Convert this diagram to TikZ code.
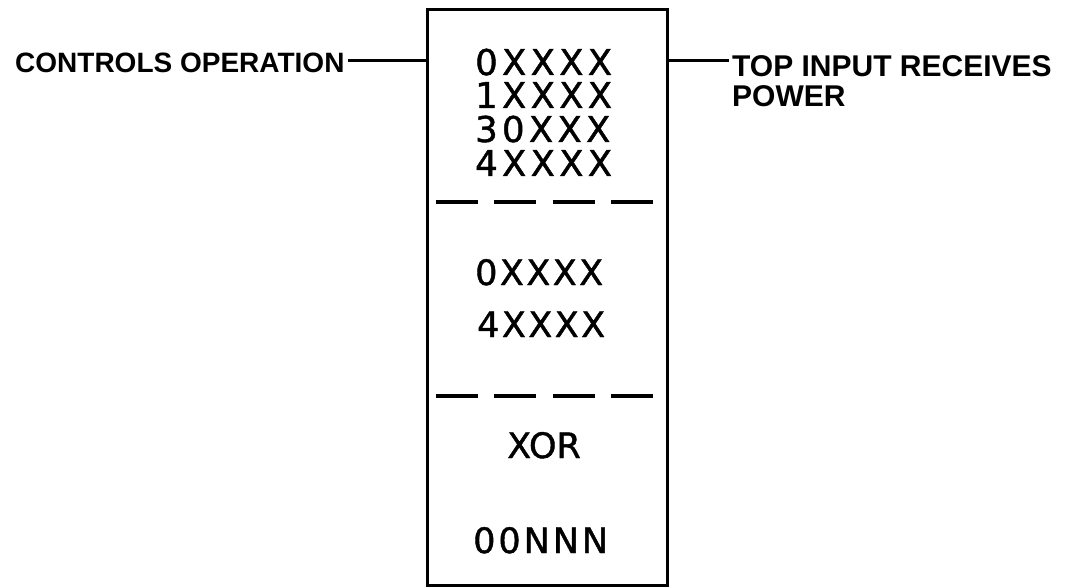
\documentclass[tikz,border=0pt]{standalone}
\usepackage{fontspec}
\setmainfont{Liberation Sans}
\newfontfamily\boxfont[FakeBold=1.2]{DejaVu Sans}
\begin{document}
\begin{tikzpicture}[x=1pt,y=-1pt,
  frame/.style={draw, line width=3pt, inner sep=0pt},
  conn/.style={line width=3pt},
  sepline/.style={line width=3.2pt, dash pattern=on 42pt off 16.5pt},
  lbl/.style={inner sep=0pt, anchor=base west, font=\fontsize{28}{30}\selectfont\bfseries},
  rlbl/.style={inner sep=0pt, anchor=base west, font=\fontsize{30}{30}\selectfont\bfseries},
  reg/.style={inner sep=0pt, anchor=base west},
  topreg/.style={reg, font=\boxfont\fontsize{35.5}{36}\selectfont\addfontfeature{LetterSpace=12}},
  midreg/.style={reg, font=\boxfont\fontsize{35}{36}\selectfont\addfontfeature{LetterSpace=7}},
]
\useasboundingbox (0,0) rectangle (1074,588);
% block
\node[frame, minimum width=240pt, minimum height=575pt] (box) at (547,297.5) {};
% top group
\node[topreg] (t1) at (475,75) {0XXXX};
\node[topreg] (t2) at (475,108) {1XXXX};
\node[topreg] (t3) at (475,142) {30XXX};
\node[topreg] (t4) at (475,176) {4XXXX};
% separators
\draw[sepline] ([xshift=10pt]box.west |- 0,202) -- ++(218,0);
\draw[sepline] ([xshift=10pt]box.west |- 0,396) -- ++(218,0);
% middle group
\node[midreg] (m1) at (475,285) {0XXXX};
\node[midreg] (m2) at (477,337) {4XXXX};
% bottom group
\node[reg, font=\boxfont\fontsize{35}{36}\selectfont] (b1) at (507,458) {XOR};
\node[reg, font=\boxfont\fontsize{35}{36}\selectfont\addfontfeature{LetterSpace=8.5}] (b2) at (473,553) {00NNN};
% labels
\node[lbl] (lc) at (15,73) {CONTROLS OPERATION};
\coordinate (lend) at (348,61);
\draw[conn] (lend) -- (lend -| box.west);
\node[rlbl] (r1) at (732,77) {TOP INPUT RECEIVES};
\node[rlbl] (r2) at (732,107) {POWER};
\coordinate (rend) at (729,61);
\draw[conn] (rend -| box.east) -- (rend);
\end{tikzpicture}
\end{document}
